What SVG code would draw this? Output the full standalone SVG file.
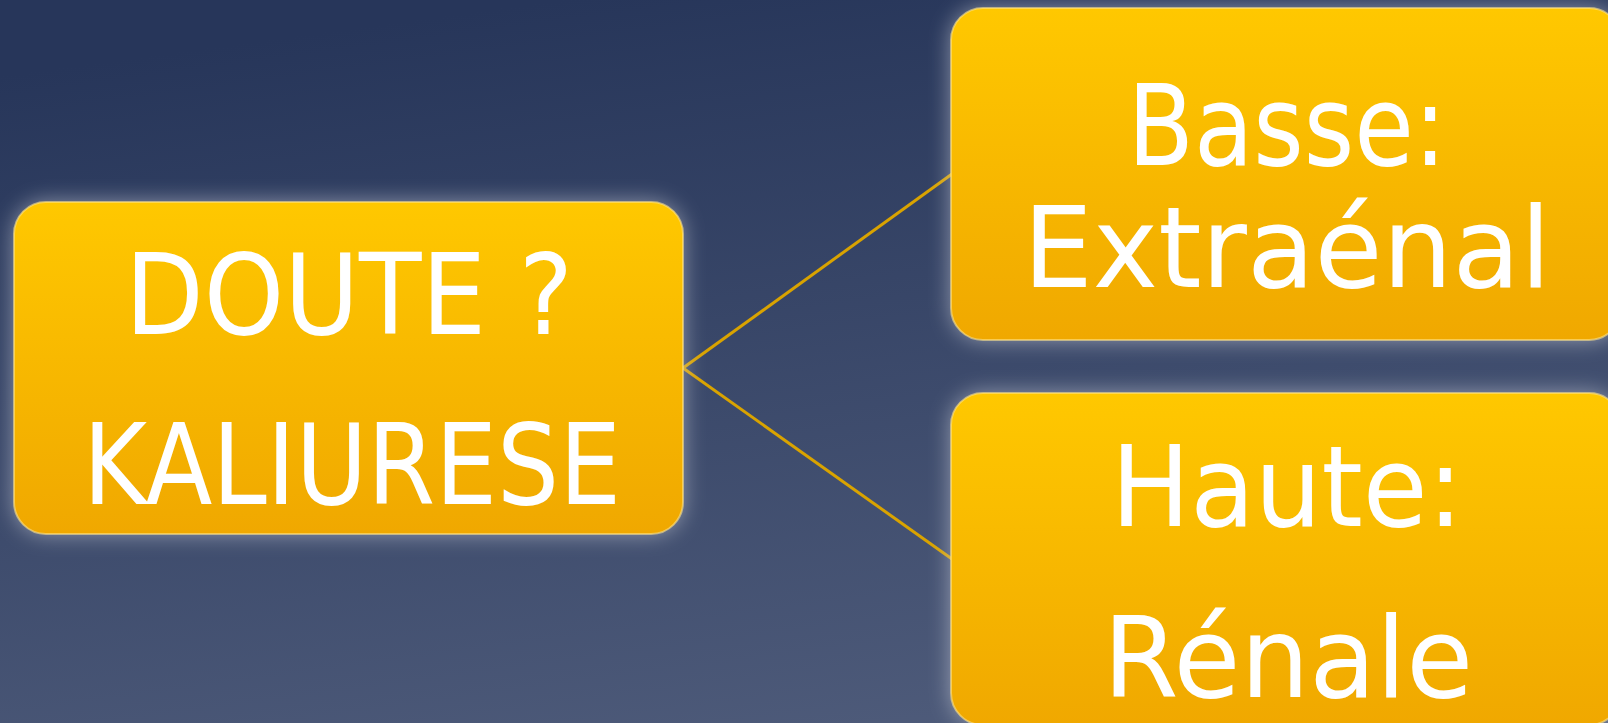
<svg xmlns="http://www.w3.org/2000/svg" width="1608" height="723" viewBox="0 0 1608 723">
  <defs>
    <linearGradient id="bg" x1="0.35" y1="0" x2="0.65" y2="1">
      <stop offset="0" stop-color="#27365a"/>
      <stop offset="1" stop-color="#4e5b7a"/>
    </linearGradient>
    <linearGradient id="boxFill" x1="0" y1="0" x2="0" y2="1">
      <stop offset="0" stop-color="#FFC800"/>
      <stop offset="1" stop-color="#F0A800"/>
    </linearGradient>
    <filter id="glow" x="-15%" y="-25%" width="130%" height="150%">
      <feGaussianBlur stdDeviation="11"/>
    </filter>
    <style>
      .halo { fill: #d0d3dc; opacity: 0.6; filter: url(#glow); }
      .box { fill: url(#boxFill); stroke: #FFE58A; stroke-width: 2; stroke-opacity: 0.6; }
      .lbl { font-family: "DejaVu Sans", "Liberation Sans", sans-serif; font-size: 112px; fill: #FFFFFF; text-anchor: middle; }
      .conn { stroke: #D9A300; stroke-width: 3; fill: none; }
    </style>
  </defs>

  <rect x="0" y="0" width="1608" height="723" fill="url(#bg)"/>

  <g id="connectors">
    <line class="conn" x1="683" y1="368" x2="952" y2="174"/>
    <line class="conn" x1="683" y1="368" x2="952" y2="559"/>
  </g>

  <g id="node-doute">
    <rect class="halo" x="14" y="202" width="669" height="332" rx="32"/>
    <rect class="box" x="14" y="202" width="669" height="332" rx="32"/>
    <text class="lbl" x="349" y="334" textLength="448" lengthAdjust="spacingAndGlyphs">DOUTE ?</text>
    <text class="lbl" x="352" y="504" textLength="538" lengthAdjust="spacingAndGlyphs">KALIURESE</text>
  </g>

  <g id="node-basse">
    <rect class="halo" x="951" y="8" width="670" height="332" rx="32"/>
    <rect class="box" x="951" y="8" width="670" height="332" rx="32"/>
    <text class="lbl" x="1287" y="165" textLength="319" lengthAdjust="spacingAndGlyphs">Basse:</text>
    <text class="lbl" x="1287" y="287" textLength="528" lengthAdjust="spacingAndGlyphs">Extraénal</text>
  </g>

  <g id="node-haute">
    <rect class="halo" x="951" y="393" width="670" height="332" rx="32"/>
    <rect class="box" x="951" y="393" width="670" height="332" rx="32"/>
    <text class="lbl" x="1287" y="526" textLength="352" lengthAdjust="spacingAndGlyphs">Haute:</text>
    <text class="lbl" x="1288" y="697" textLength="370" lengthAdjust="spacingAndGlyphs">Rénale</text>
  </g>
</svg>
